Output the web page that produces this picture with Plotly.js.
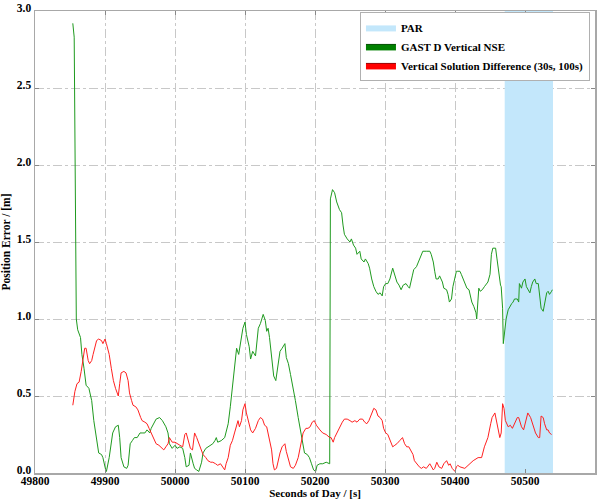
<!DOCTYPE html>
<html>
<head>
<meta charset="utf-8">
<script src="https://cdn.plot.ly/plotly-3.0.1.min.js"></script>
<style>html,body{margin:0;padding:0;background:#fff;}#chart{width:609px;height:500px;}</style>
</head>
<body>
<div id="chart"></div>
<script>
// PAR window (seconds of day)
const parWindow = [50471, 50540];
const yLimits = [0, 3];

// GAST D Vertical NSE
const nseT = [49854,49856,49859,49861,49865,49867,49870,49873,49877,49881,49884,49888,49891,49895,49897,49901,49902,49906,49909,49911,49915,49919,49921,49923,49927,49931,49933,49936,49939,49942,49946,49950,49953,49957,49960,49964,49966,49970,49973,49978,49982,49987,49990,49992,49996,50000,50003,50007,50011,50014,50016,50020,50022,50026,50028,50031,50034,50038,50040,50044,50047,50051,50054,50057,50059,50061,50066,50071,50076,50079,50082,50085,50088,50091,50095,50097,50100,50102,50106,50108,50111,50115,50119,50122,50126,50129,50131,50133,50135,50138,50141,50144,50147,50150,50153,50157,50159,50162,50165,50169,50172,50176,50179,50183,50185,50189,50192,50195,50198,50201,50203,50207,50211,50216,50221,50222,50225,50228,50231,50235,50238,50240,50242,50246,50250,50252,50255,50258,50260,50264,50266,50270,50272,50276,50278,50281,50284,50287,50290,50293,50296,50298,50301,50304,50307,50311,50314,50317,50320,50323,50326,50330,50333,50335,50339,50341,50345,50349,50352,50354,50359,50364,50366,50369,50371,50373,50376,50378,50382,50384,50388,50390,50392,50395,50397,50400,50402,50404,50407,50409,50412,50415,50417,50420,50422,50424,50427,50430,50431,50433,50434,50436,50439,50442,50445,50447,50450,50452,50454,50458,50460,50462,50465,50466,50468,50469,50471,50473,50476,50478,50481,50483,50485,50489,50491,50492,50495,50497,50500,50502,50504,50507,50509,50511,50514,50516,50519,50521,50523,50526,50528,50531,50533,50535,50538,50539];
const nseV = [2.92,2.83,1.00,0.93,0.88,0.77,0.68,0.57,0.55,0.47,0.34,0.23,0.13,0.12,0.10,0.02,0.01,0.10,0.19,0.26,0.30,0.31,0.23,0.10,0.04,0.03,0.05,0.19,0.21,0.23,0.23,0.26,0.26,0.26,0.28,0.26,0.29,0.33,0.35,0.36,0.34,0.30,0.26,0.19,0.16,0.18,0.16,0.17,0.16,0.10,0.04,0.05,0.13,0.06,0.03,0.02,0.01,0.07,0.13,0.16,0.17,0.18,0.19,0.21,0.23,0.20,0.21,0.23,0.32,0.43,0.55,0.71,0.81,0.77,0.88,0.94,0.98,0.90,0.82,0.74,0.79,0.76,0.94,0.97,1.03,0.99,0.92,0.94,0.88,0.73,0.63,0.60,0.71,0.79,0.81,0.84,0.75,0.71,0.64,0.55,0.47,0.36,0.28,0.19,0.13,0.12,0.10,0.06,0.02,0.01,0.05,0.06,0.06,0.07,0.06,1.78,1.84,1.82,1.76,1.71,1.69,1.61,1.55,1.52,1.50,1.52,1.48,1.46,1.42,1.44,1.39,1.37,1.39,1.36,1.33,1.26,1.21,1.18,1.16,1.17,1.15,1.21,1.23,1.23,1.26,1.33,1.29,1.24,1.22,1.19,1.22,1.23,1.21,1.20,1.28,1.32,1.34,1.38,1.42,1.44,1.44,1.44,1.42,1.37,1.31,1.26,1.26,1.28,1.24,1.20,1.19,1.16,1.11,1.13,1.21,1.26,1.31,1.31,1.31,1.29,1.26,1.23,1.20,1.19,1.15,1.11,1.08,1.04,1.00,1.13,1.20,1.18,1.19,1.21,1.23,1.24,1.29,1.42,1.46,1.46,1.39,1.31,1.22,1.21,1.07,0.84,0.92,1.00,1.06,1.08,1.10,1.11,1.13,1.13,1.11,1.23,1.20,1.24,1.26,1.21,1.19,1.17,1.21,1.24,1.26,1.23,1.23,1.13,1.07,1.05,1.10,1.17,1.18,1.16,1.18,1.19];

// Vertical Solution Difference (30s, 100s)
const diffT = [49854,49857,49860,49863,49866,49869,49871,49873,49876,49878,49881,49883,49885,49888,49891,49895,49897,49900,49902,49906,49909,49912,49915,49919,49921,49923,49927,49930,49933,49935,49938,49940,49944,49947,49951,49953,49957,49960,49963,49966,49970,49973,49977,49981,49984,49987,49990,49992,49996,50000,50003,50007,50011,50014,50016,50019,50022,50025,50028,50031,50034,50038,50040,50044,50047,50051,50054,50058,50061,50065,50068,50071,50073,50076,50079,50082,50085,50088,50090,50092,50095,50097,50100,50102,50106,50108,50111,50115,50119,50122,50125,50128,50131,50134,50138,50140,50142,50145,50147,50150,50153,50157,50159,50162,50165,50169,50172,50176,50179,50183,50187,50190,50193,50196,50199,50202,50207,50211,50216,50221,50223,50226,50228,50231,50235,50239,50242,50246,50250,50253,50257,50260,50264,50268,50271,50274,50277,50281,50284,50287,50290,50293,50296,50298,50301,50304,50308,50311,50314,50317,50321,50325,50328,50331,50334,50338,50340,50342,50345,50349,50352,50355,50359,50363,50364,50369,50371,50374,50377,50381,50384,50388,50391,50393,50396,50400,50402,50404,50407,50414,50421,50426,50433,50438,50442,50447,50451,50453,50457,50459,50461,50464,50466,50468,50470,50472,50476,50479,50482,50485,50489,50491,50495,50498,50501,50504,50508,50511,50515,50519,50521,50523,50526,50528,50531,50533,50535,50538];
const diffV = [0.44,0.53,0.58,0.59,0.66,0.74,0.81,0.81,0.73,0.71,0.73,0.77,0.81,0.86,0.87,0.86,0.84,0.87,0.84,0.77,0.68,0.60,0.55,0.50,0.58,0.65,0.66,0.65,0.60,0.52,0.47,0.44,0.43,0.41,0.36,0.34,0.33,0.32,0.29,0.26,0.21,0.19,0.18,0.16,0.15,0.17,0.19,0.23,0.20,0.20,0.19,0.18,0.17,0.25,0.26,0.21,0.16,0.15,0.26,0.23,0.19,0.15,0.12,0.10,0.08,0.07,0.07,0.06,0.05,0.06,0.04,0.02,0.06,0.10,0.18,0.21,0.26,0.30,0.34,0.30,0.34,0.41,0.45,0.39,0.32,0.28,0.26,0.29,0.34,0.36,0.35,0.31,0.30,0.23,0.15,0.06,0.02,0.03,0.08,0.13,0.17,0.19,0.14,0.08,0.04,0.03,0.05,0.10,0.17,0.26,0.29,0.29,0.30,0.33,0.34,0.31,0.28,0.26,0.25,0.23,0.23,0.20,0.23,0.26,0.29,0.33,0.35,0.35,0.34,0.33,0.34,0.33,0.35,0.35,0.33,0.32,0.34,0.39,0.42,0.41,0.37,0.36,0.34,0.29,0.26,0.25,0.21,0.17,0.18,0.19,0.21,0.23,0.19,0.17,0.17,0.14,0.12,0.08,0.06,0.04,0.03,0.04,0.03,0.05,0.06,0.02,0.03,0.07,0.04,0.03,0.06,0.08,0.05,0.06,0.03,0.01,0.04,0.05,0.04,0.03,0.06,0.08,0.10,0.10,0.17,0.23,0.32,0.36,0.39,0.34,0.28,0.23,0.26,0.45,0.42,0.34,0.30,0.31,0.29,0.32,0.36,0.36,0.30,0.28,0.34,0.39,0.36,0.31,0.26,0.23,0.23,0.37,0.36,0.32,0.28,0.28,0.26,0.25];

const serif = 'Liberation Serif, Times New Roman, serif';

const traces = [
  {
    name: 'PAR',
    x: [parWindow[0], parWindow[1], parWindow[1], parWindow[0], parWindow[0]],
    y: [yLimits[0], yLimits[0], yLimits[1], yLimits[1], yLimits[0]],
    mode: 'lines', fill: 'toself',
    fillcolor: '#c3e7fb',
    line: {width: 0, color: '#9fc8e0'},
    hoverinfo: 'skip', showlegend: true
  },
  {
    name: 'GAST D Vertical NSE',
    x: [null], y: [null], mode: 'lines', fill: 'toself',
    fillcolor: '#008000', line: {color: '#004d00', width: 1}, showlegend: true
  },
  {
    name: 'Vertical Solution Difference (30s, 100s)',
    x: [null], y: [null], mode: 'lines', fill: 'toself',
    fillcolor: '#ff0000', line: {color: '#990000', width: 1}, showlegend: true
  },
  {
    name: 'GAST D Vertical NSE',
    x: nseT, y: nseV, mode: 'lines',
    line: {color: '#1f9a1f', width: 1}, showlegend: false
  },
  {
    name: 'Vertical Solution Difference (30s, 100s)',
    x: diffT, y: diffV, mode: 'lines',
    line: {color: '#ff2020', width: 1}, showlegend: false
  }
];

const axisCommon = {
  showline: true, linecolor: '#a8a8a8', linewidth: 1.5, mirror: 'ticks',
  showgrid: true, gridcolor: '#c8c8c8', griddash: 'dashdot', gridwidth: 1,
  zeroline: false,
  ticks: 'inside', ticklen: 4, tickcolor: '#888', tickwidth: 1,
  tickfont: {family: serif, size: 11.5, color: '#000', weight: 'bold'}
};

const layout = {
  width: 609, height: 500,
  margin: {l: 35, r: 14, t: 11, b: 27},
  paper_bgcolor: '#fff', plot_bgcolor: '#fff',
  showlegend: true,
  xaxis: Object.assign({}, axisCommon, {
    range: [49800, 50600], dtick: 100, tick0: 49800, tickformat: 'd',
    automargin: false, ticklabelstandoff: -3,
    title: {text: 'Seconds of Day / [s]', standoff: 0,
            font: {family: serif, size: 11, color: '#000', weight: 'bold'}}
  }),
  yaxis: Object.assign({}, axisCommon, {
    range: yLimits, dtick: 0.5, tick0: 0, tickformat: '.1f',
    automargin: false, ticklabelshift: -3, ticklabeloverflow: 'allow',
    title: {text: 'Position Error / [m]', standoff: 6,
            font: {family: serif, size: 11.5, color: '#000', weight: 'bold'}}
  }),
  legend: {
    x: 0.991, y: 0.998, xanchor: 'right', yanchor: 'top',
    bgcolor: '#fff', bordercolor: '#b0b0b0', borderwidth: 1,
    font: {family: serif, size: 11, color: '#000', weight: 'bold'},
    itemwidth: 30, tracegroupgap: 0
  }
};

Plotly.newPlot('chart', traces, layout, {displayModeBar: false, staticPlot: true});
</script>
</body>
</html>
